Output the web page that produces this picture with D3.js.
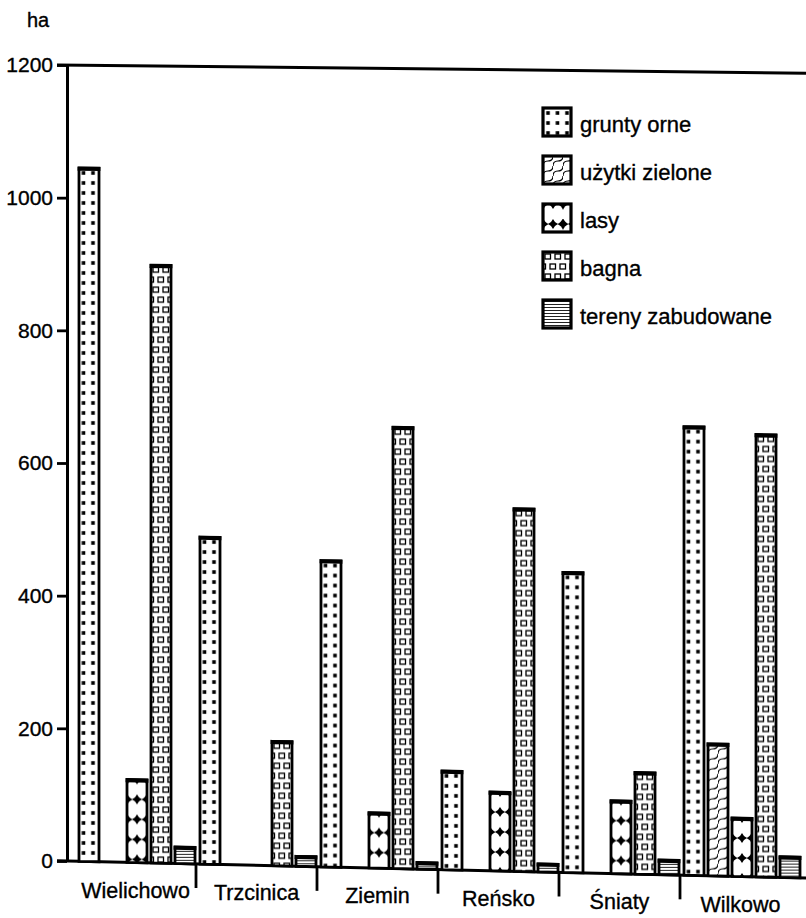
<!doctype html>
<html>
<head>
<meta charset="utf-8">
<script src="https://cdn.jsdelivr.net/npm/d3@7"></script>
<style>
  body { margin: 0; background: #fff; }
  text { font-family: "Liberation Sans", Arial, sans-serif; fill: #000; stroke: #000; stroke-width: 0.35px; }
</style>
</head>
<body>
<script>
// ---------- data (ha) ----------
const villages      = ["Wielichowo", "Trzcinica", "Ziemin", "Reńsko", "Śniaty", "Wilkowo"];
const landTypes     = ["grunty orne", "użytki zielone", "lasy", "bagna", "tereny zabudowane"];
const gruntyOrne    = [1045, 492, 460, 148, 449, 670];
const uzytkiZielone = [0, 0, 0, 0, 0, 197];
const lasy          = [125, 0, 83, 118, 109, 87];
const bagna         = [900, 187, 662, 543, 152, 660];
const tereny        = [25, 15, 10, 12, 22, 31];
const yTicks        = [0, 200, 400, 600, 800, 1000, 1200];

const series = [gruntyOrne, uzytkiZielone, lasy, bagna, tereny];

// ---------- layout ----------
const width = 806, height = 918;
const axisX = 67;

const svg = d3.select('body').append('svg')
  .attr('width', width)
  .attr('height', height);

const y  = d3.scaleLinear().domain([0, 1200]).range([861, 65]);
const x  = d3.scaleBand().domain(villages).range([75, 801]);
const xs = d3.scaleBand().domain(landTypes)
  .range([2, x.bandwidth() + 1])
  .paddingInner(1 / 6)
  .paddingOuter(1 / 12);

// the scanned page is a bit skewed: lines drop to the right, more at the bottom
const kTop = 0.011, kBot = 0.023;
function warp(px, py) {
  const t = (py - y(1200)) / (y(0) - y(1200));
  return [px, py + (px - axisX) * (kTop + (kBot - kTop) * t)];
}
const line = d3.line();
function wpath(pts, close) {
  return line(pts.map(p => warp(p[0], p[1]))) + (close ? 'Z' : '');
}

// ---------- fill patterns ----------
const defs = svg.append('defs');

function star(cx, cy, s) {
  const c = s * 0.3;
  return `M${cx},${cy - s}Q${cx + c},${cy - c} ${cx + s},${cy}` +
         `Q${cx + c},${cy + c} ${cx},${cy + s}` +
         `Q${cx - c},${cy + c} ${cx - s},${cy}` +
         `Q${cx - c},${cy - c} ${cx},${cy - s}Z`;
}

function makePattern(id, type, px, py) {
  const p = defs.append('pattern')
    .attr('id', id)
    .attr('patternUnits', 'userSpaceOnUse')
    .attr('x', px).attr('y', py);
  if (type === 0) {            // grunty orne: dots
    p.attr('width', 9.5).attr('height', 10);
    p.append('rect').attr('width', 9.5).attr('height', 10).attr('fill', '#fff');
    p.append('rect').attr('x', 3.2).attr('y', 3.2).attr('width', 3.6).attr('height', 3.6).attr('fill', '#000');
  } else if (type === 1) {     // użytki zielone: wavy diagonals
    p.attr('width', 10).attr('height', 10);
    p.append('rect').attr('width', 10).attr('height', 10).attr('fill', '#fff');
    p.append('path').attr('d', 'M0,10 Q0,5 5,5 Q10,5 10,0')
      .attr('fill', 'none').attr('stroke', '#000').attr('stroke-width', 1.2);
  } else if (type === 2) {     // lasy: white rings with black diamonds
    p.attr('width', 20).attr('height', 20);
    p.append('rect').attr('width', 20).attr('height', 20).attr('fill', '#000');
    p.append('circle').attr('cx', 10).attr('cy', 10).attr('r', 10.8).attr('fill', '#fff');
    p.append('path').attr('d', star(10, 0, 5) + star(10, 20, 5)).attr('fill', '#000');
  } else if (type === 3) {     // bagna: small open squares
    p.attr('width', 10).attr('height', 20);
    p.append('rect').attr('width', 10).attr('height', 20).attr('fill', '#fff');
    [[2, 2], [7, 12], [-3, 12]].forEach(d => {
      p.append('rect').attr('x', d[0]).attr('y', d[1]).attr('width', 5.5).attr('height', 5)
        .attr('fill', 'none').attr('stroke', '#000').attr('stroke-width', 1.3);
    });
  } else {                     // tereny zabudowane: fine horizontal lines
    p.attr('width', 4).attr('height', 3);
    p.append('rect').attr('width', 4).attr('height', 3).attr('fill', '#fff');
    p.append('line').attr('x1', 0).attr('x2', 4).attr('y1', 1.5).attr('y2', 1.5)
      .attr('stroke', '#222').attr('stroke-width', 1);
  }
  return `url(#${id})`;
}

// ---------- frame & axis ----------
const yAxis = d3.axisLeft(y)
  .tickValues(yTicks)
  .tickFormat(d3.format('d'))
  .tickSize(10)
  .tickSizeOuter(0)
  .tickPadding(4);

const gy = svg.append('g')
  .attr('transform', `translate(${axisX},0)`)
  .call(yAxis);
gy.select('.domain').attr('stroke', '#000').attr('stroke-width', 3);
gy.selectAll('.tick line').attr('stroke', '#000').attr('stroke-width', 2.8);
gy.selectAll('.tick text')
  .style('font-family', '"Liberation Sans", Arial, sans-serif')
  .style('font-size', '21px')
  .attr('fill', '#000');

svg.append('text')
  .attr('x', 27).attr('y', 27)
  .style('font-size', '20px')
  .text('ha');

// top line (1200) and base line (0)
[1200, 0].forEach(v => {
  svg.append('path')
    .attr('d', wpath([[axisX - 10, y(v)], [width, y(v)]]))
    .attr('fill', 'none').attr('stroke', '#000').attr('stroke-width', 3);
});

// separators between villages
villages.slice(1).forEach(v => {
  svg.append('path')
    .attr('d', wpath([[x(v), y(0)], [x(v), y(0) + 24]]))
    .attr('fill', 'none').attr('stroke', '#000').attr('stroke-width', 2.8);
});

// ---------- bars ----------
const bars = svg.append('g').attr('class', 'bars');
villages.forEach((vil, i) => {
  landTypes.forEach((lt, j) => {
    const v = series[j][i];
    if (!v) return;
    const bx = x(vil) + xs(lt), bw = xs.bandwidth();
    const top = warp(bx, y(v));
    const off = j === 0 ? -0.5 : 0;
    const fill = makePattern(`p${i}_${j}`, j, bx + off, top[1]);
    bars.append('path')
      .attr('d', wpath([[bx, y(v)], [bx + bw, y(v)], [bx + bw, y(0)], [bx, y(0)]], true))
      .attr('fill', fill)
      .attr('stroke', '#000')
      .attr('stroke-width', 2.8);
    bars.append('path')
      .attr('d', wpath([[bx - 1.4, y(v) + 0.8], [bx + bw + 1.4, y(v) + 0.8]]))
      .attr('stroke', '#000')
      .attr('stroke-width', 4);
  });
});

// ---------- village labels ----------
villages.forEach(vil => {
  const p = warp(x(vil) + x.bandwidth() / 2, y(0) + 35);
  svg.append('text')
    .attr('x', p[0]).attr('y', p[1])
    .attr('text-anchor', 'middle')
    .style('font-size', '21.5px')
    .text(vil);
});

// ---------- legend ----------
const legend = svg.append('g').attr('class', 'legend');
landTypes.forEach((lt, j) => {
  const ly = 108 + j * 48;
  const fill = makePattern(`leg${j}`, j, 543, ly);
  legend.append('rect')
    .attr('x', 543).attr('y', ly)
    .attr('width', 28).attr('height', 28)
    .attr('fill', fill)
    .attr('stroke', '#000')
    .attr('stroke-width', 3.2);
  legend.append('text')
    .attr('x', 580).attr('y', ly + 24)
    .style('font-size', '22px')
    .text(lt);
});
</script>
</body>
</html>
